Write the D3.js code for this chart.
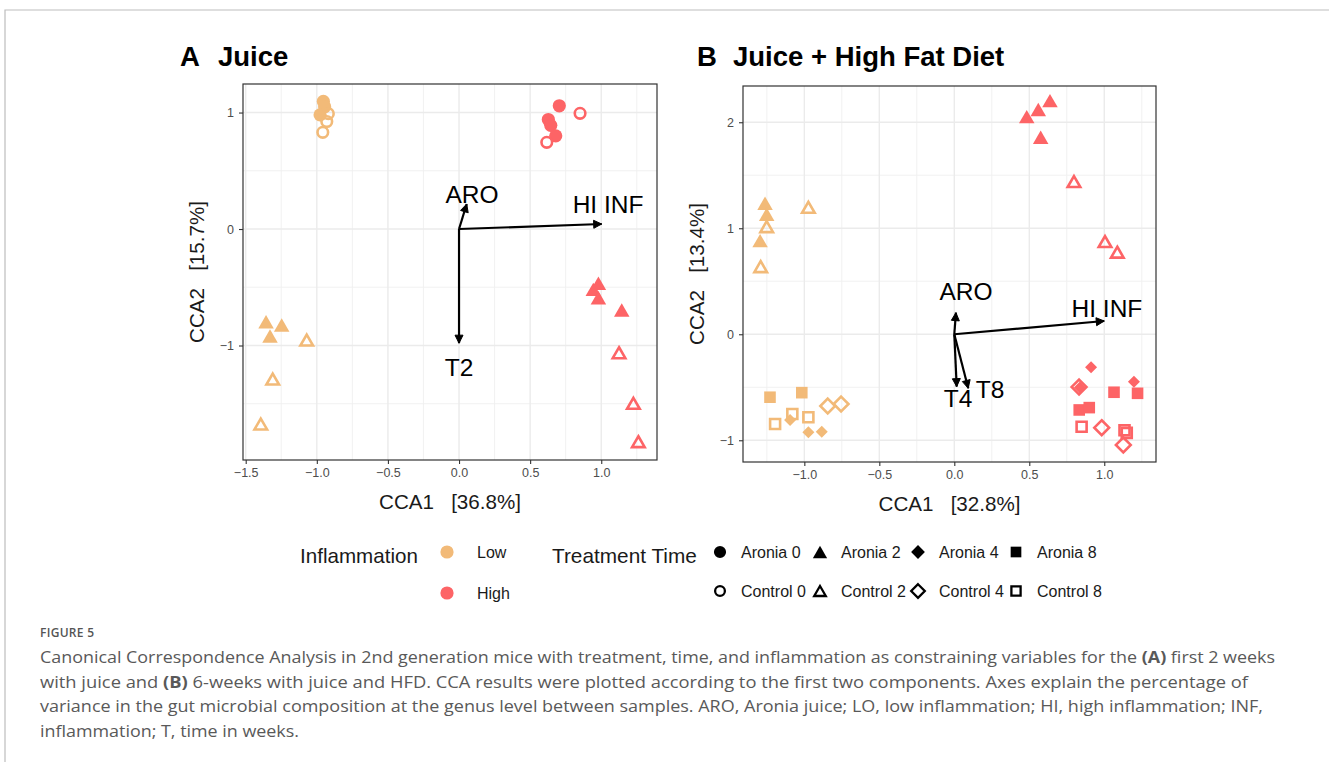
<!DOCTYPE html>
<html>
<head>
<meta charset="utf-8">
<script src="https://cdn.jsdelivr.net/npm/d3@7"></script>
<style>
  html, body { margin: 0; padding: 0; background: #fff; }
  svg { display: block; }
</style>
</head>
<body>
<svg id="fig" width="1329" height="762"></svg>
<script>
// ---- Data: CCA site scores, [CCA1, CCA2, inflammation, treatment-time] ----
const juicePoints = [
  [-0.954, 1.096, "Low", "Aronia 0"], [-0.945, 1.050, "Low", "Aronia 0"], [-0.977, 0.980, "Low", "Aronia 0"],
  [-0.919, 0.990, "Low", "Control 0"], [-0.930, 0.923, "Low", "Control 0"], [-0.958, 0.830, "Low", "Control 0"],
  [0.705, 1.058, "High", "Aronia 0"], [0.628, 0.940, "High", "Aronia 0"], [0.645, 0.890, "High", "Aronia 0"], [0.680, 0.800, "High", "Aronia 0"],
  [0.851, 0.993, "High", "Control 0"], [0.617, 0.744, "High", "Control 0"],
  [-1.357, -0.796, "Low", "Aronia 2"], [-1.247, -0.824, "Low", "Aronia 2"], [-1.329, -0.918, "Low", "Aronia 2"],
  [-1.071, -0.953, "Low", "Control 2"], [-1.310, -1.288, "Low", "Control 2"], [-1.394, -1.674, "Low", "Control 2"],
  [0.980, -0.466, "High", "Aronia 2"], [0.944, -0.518, "High", "Aronia 2"], [0.980, -0.590, "High", "Aronia 2"], [1.144, -0.695, "High", "Aronia 2"],
  [1.125, -1.062, "High", "Control 2"], [1.226, -1.496, "High", "Control 2"], [1.261, -1.826, "High", "Control 2"]
];

const hfdPoints = [
  [-1.262, 1.236, "Low", "Aronia 2"], [-1.251, 1.132, "Low", "Aronia 2"], [-1.295, 0.883, "Low", "Aronia 2"],
  [-1.251, 1.015, "Low", "Control 2"], [-1.291, 0.638, "Low", "Control 2"], [-0.973, 1.198, "Low", "Control 2"],
  [0.483, 2.053, "High", "Aronia 2"], [0.560, 2.120, "High", "Aronia 2"], [0.638, 2.204, "High", "Aronia 2"], [0.576, 1.858, "High", "Aronia 2"],
  [0.798, 1.440, "High", "Control 2"], [1.005, 0.874, "High", "Control 2"], [1.087, 0.774, "High", "Control 2"],
  [-1.229, -0.594, "Low", "Aronia 8"], [-1.017, -0.551, "Low", "Aronia 8"],
  [-1.195, -0.846, "Low", "Control 8"], [-1.080, -0.752, "Low", "Control 8"], [-0.973, -0.783, "Low", "Control 8"],
  [-1.095, -0.808, "Low", "Aronia 4"], [-0.973, -0.925, "Low", "Aronia 4"], [-0.884, -0.919, "Low", "Aronia 4"],
  [-0.844, -0.677, "Low", "Control 4"], [-0.755, -0.658, "Low", "Control 4"],
  [0.912, -0.311, "High", "Aronia 4"], [0.838, -0.503, "High", "Aronia 4"], [1.198, -0.447, "High", "Aronia 4"],
  [0.832, -0.497, "High", "Control 4"], [0.983, -0.881, "High", "Control 4"], [1.127, -1.044, "High", "Control 4"],
  [1.065, -0.547, "High", "Aronia 8"], [1.222, -0.557, "High", "Aronia 8"], [0.833, -0.714, "High", "Aronia 8"], [0.900, -0.692, "High", "Aronia 8"],
  [0.849, -0.872, "High", "Control 8"], [1.135, -0.905, "High", "Control 8"], [1.150, -0.930, "High", "Control 8"]
];

// ---- Biplot arrows: [label, tipCCA1, tipCCA2, labelCCA1, labelCCA2] ----
const juiceArrows = [
  ["ARO", 0.054, 0.215, 0.091, 0.300],
  ["HI INF", 1.003, 0.043, 1.048, 0.215],
  ["T2", 0.000, -0.980, 0.000, -1.185]
];
const hfdArrows = [
  ["ARO", 0.011, 0.204, 0.078, 0.410],
  ["HI INF", 1.000, 0.125, 1.018, 0.250],
  ["T4", 0.016, -0.494, 0.025, -0.600],
  ["T8", 0.093, -0.510, 0.238, -0.516]
];

// ---- Axis ticks ----
const juiceXTicks = [-1.5, -1.0, -0.5, 0.0, 0.5, 1.0];
const juiceYTicks = [-1, 0, 1];
const hfdXTicks = [-1.0, -0.5, 0.0, 0.5, 1.0];
const hfdYTicks = [-1, 0, 1, 2];

// ---- Legend entries ----
const inflammationLevels = ["Low", "High"];
const treatmentTimes = ["Aronia 0", "Aronia 2", "Aronia 4", "Aronia 8",
                        "Control 0", "Control 2", "Control 4", "Control 8"];

const colour = d3.scaleOrdinal().domain(inflammationLevels).range(["#F2BA78", "#FD6466"]);

const svg = d3.select("#fig");
const FONT = "'Liberation Sans', Arial, Helvetica, sans-serif";

// Marker path centred on (0,0); filled for Aronia, hollow for Control.
function markerPath(treat, scale, diamondScale) {
  const s = scale || 1;
  const filled = treat.startsWith("Aronia");
  const time = treat.split(" ")[1];
  const p = d3.path();
  if (time === "0") {
    const r = (filled ? 6.6 : 5.3) * s;
    p.arc(0, 0, r, 0, 2 * Math.PI);
  } else if (time === "2") {
    const side = (filled ? 15.5 : 12.6) * s;
    const h = side * Math.sqrt(3) / 2;
    p.moveTo(0, -h / 2); p.lineTo(side / 2, h / 2); p.lineTo(-side / 2, h / 2); p.closePath();
  } else if (time === "4") {
    const d = (filled ? 6.0 : 7.4) * s * (filled && diamondScale ? diamondScale : 1);
    p.moveTo(0, -d); p.lineTo(d, 0); p.lineTo(0, d); p.lineTo(-d, 0); p.closePath();
  } else {
    const h = (filled ? 5.8 : 5.0) * s;
    p.rect(-h, -h, 2 * h, 2 * h);
  }
  return p.toString();
}

function styleMarker(sel, fill, treat, sw) {
  const filled = treat.startsWith("Aronia");
  sel.attr("fill", filled ? fill : "none")
     .attr("stroke", filled ? "none" : fill)
     .attr("stroke-width", filled ? 0 : (sw || 2.6));
}

function drawPanel(cfg) {
  const { left, right, top, bottom, xDomain, yDomain, xTicks, yTicks, points, arrows,
          letter, title, xTitle, yTitle } = cfg;
  const x = d3.scaleLinear().domain(xDomain).range([left, right]);
  const y = d3.scaleLinear().domain(yDomain).range([bottom, top]);
  const g = svg.append("g");

  // Minor grid lines halfway between major ticks
  const xStep = xTicks[1] - xTicks[0], yStep = yTicks[1] - yTicks[0];
  const xMinor = d3.range(Math.ceil((xDomain[0] - xStep / 2) / xStep) * xStep + xStep / 2, xDomain[1], xStep)
    .filter(v => v > xDomain[0] && v < xDomain[1]);
  const yMinor = d3.range(Math.ceil((yDomain[0] - yStep / 2) / yStep) * yStep + yStep / 2, yDomain[1], yStep)
    .filter(v => v > yDomain[0] && v < yDomain[1]);

  const grid = g.append("g");
  grid.selectAll(".vx-minor").data(xMinor).join("line")
    .attr("x1", d => x(d)).attr("x2", d => x(d)).attr("y1", top).attr("y2", bottom)
    .attr("stroke", "#EFEFEF").attr("stroke-width", 0.9);
  grid.selectAll(".hy-minor").data(yMinor).join("line")
    .attr("y1", d => y(d)).attr("y2", d => y(d)).attr("x1", left).attr("x2", right)
    .attr("stroke", "#EFEFEF").attr("stroke-width", 0.9);
  grid.selectAll(".vx").data(xTicks).join("line")
    .attr("x1", d => x(d)).attr("x2", d => x(d)).attr("y1", top).attr("y2", bottom)
    .attr("stroke", "#EBEBEB").attr("stroke-width", 1.4);
  grid.selectAll(".hy").data(yTicks).join("line")
    .attr("y1", d => y(d)).attr("y2", d => y(d)).attr("x1", left).attr("x2", right)
    .attr("stroke", "#EBEBEB").attr("stroke-width", 1.4);

  // Axes
  const xAxis = g.append("g").attr("transform", `translate(0,${bottom})`)
    .call(d3.axisBottom(x).tickValues(xTicks).tickFormat(d3.format(".1f")).tickSize(4).tickPadding(4));
  const yAxis = g.append("g").attr("transform", `translate(${left},0)`)
    .call(d3.axisLeft(y).tickValues(yTicks).tickFormat(d3.format("d")).tickSize(4).tickPadding(5));
  [xAxis, yAxis].forEach(a => {
    a.select(".domain").remove();
    a.selectAll(".tick line").attr("stroke", "#333").attr("stroke-width", 1.1);
    a.selectAll(".tick text").attr("fill", "#4D4D4D").style("font-family", FONT).style("font-size", "12.5px");
  });

  // Points
  g.append("g").selectAll("path").data(points).join("path")
    .attr("d", d => markerPath(d[3]))
    .attr("transform", d => `translate(${x(d[0])},${y(d[1])})`)
    .each(function (d) { styleMarker(d3.select(this), colour(d[2]), d[3]); });

  // Biplot arrows from the origin
  const ag = g.append("g");
  arrows.forEach(a => {
    const x0 = x(0), y0 = y(0), x1 = x(a[1]), y1 = y(a[2]);
    const ang = Math.atan2(y1 - y0, x1 - x0);
    ag.append("line").attr("x1", x0).attr("y1", y0).attr("x2", x1).attr("y2", y1)
      .attr("stroke", "#000").attr("stroke-width", 2.2);
    const L = 8, W = 4;
    const bx = x1 - L * Math.cos(ang), by = y1 - L * Math.sin(ang);
    const px = -Math.sin(ang) * W, py = Math.cos(ang) * W;
    ag.append("path")
      .attr("d", `M${x1},${y1}L${bx + px},${by + py}L${bx - px},${by - py}Z`)
      .attr("fill", "#000").attr("stroke", "#000").attr("stroke-width", 1);
    ag.append("text").attr("x", x(a[3])).attr("y", y(a[4])).attr("dy", "0.36em")
      .attr("text-anchor", "middle").style("font-family", FONT).style("font-size", "24.5px")
      .attr("fill", "#000").text(a[0]);
  });

  // Panel border
  g.append("rect").attr("x", left).attr("y", top).attr("width", right - left).attr("height", bottom - top)
    .attr("fill", "none").attr("stroke", "#333").attr("stroke-width", 1.2);

  // Axis titles
  g.append("text").attr("x", (left + right) / 2).attr("y", bottom + 49).attr("text-anchor", "middle")
    .style("font-family", FONT).style("font-size", "20.6px").attr("fill", "#1a1a1a")
    .attr("xml:space", "preserve").text(xTitle);
  g.append("text").attr("transform", `translate(${cfg.yTitleX},${(top + bottom) / 2}) rotate(-90)`)
    .attr("text-anchor", "middle").style("font-family", FONT).style("font-size", "20.6px").attr("fill", "#1a1a1a")
    .attr("xml:space", "preserve").text(yTitle);

  // Panel title
  g.append("text").attr("x", cfg.letterX).attr("y", 66).style("font-family", FONT)
    .style("font-size", "27.5px").style("font-weight", "bold").attr("fill", "#000").text(letter);
  g.append("text").attr("x", cfg.titleX).attr("y", 66).style("font-family", FONT)
    .style("font-size", "27.5px").style("font-weight", "bold").attr("fill", "#000").text(title);
}

// Outer frame of the figure
svg.append("path").attr("d", "M5,762V10H1329").attr("fill", "none").attr("stroke", "#BDBDBD").attr("stroke-width", 1.2);

drawPanel({
  left: 243, right: 657, top: 84, bottom: 460,
  xDomain: [-1.519, 1.392], yDomain: [-1.983, 1.245],
  xTicks: juiceXTicks, yTicks: juiceYTicks, points: juicePoints, arrows: juiceArrows,
  letter: "A", letterX: 180, title: "Juice", titleX: 218,
  xTitle: "CCA1   [36.8%]", yTitle: "CCA2   [15.7%]", yTitleX: 204
});
drawPanel({
  left: 743, right: 1156, top: 86, bottom: 462,
  xDomain: [-1.409, 1.345], yDomain: [-1.205, 2.342],
  xTicks: hfdXTicks, yTicks: hfdYTicks, points: hfdPoints, arrows: hfdArrows,
  letter: "B", letterX: 697, title: "Juice + High Fat Diet", titleX: 733,
  xTitle: "CCA1   [32.8%]", yTitle: "CCA2   [13.4%]", yTitleX: 704
});

// ---- Legends ----
const leg = svg.append("g");
leg.append("text").attr("x", 300).attr("y", 563).style("font-family", FONT).style("font-size", "20.6px")
  .attr("fill", "#1a1a1a").text("Inflammation");
inflammationLevels.forEach((lv, i) => {
  const cy = 552 + i * 41;
  leg.append("circle").attr("cx", 447).attr("cy", cy).attr("r", 6.6).attr("fill", colour(lv));
  leg.append("text").attr("x", 477).attr("y", cy + 5.7).style("font-family", FONT).style("font-size", "16px")
    .attr("fill", "#1a1a1a").text(lv);
});

leg.append("text").attr("x", 552).attr("y", 563).style("font-family", FONT).style("font-size", "20.8px")
  .attr("fill", "#1a1a1a").text("Treatment Time");
const keyX = [720, 820, 918, 1016];
treatmentTimes.forEach((t, i) => {
  const col = i % 4, row = Math.floor(i / 4);
  const cx = keyX[col], cy = 552 + row * 39;
  const m = leg.append("path").attr("d", markerPath(t, 0.92, 1.25)).attr("transform", `translate(${cx},${cy})`);
  styleMarker(m, "#000", t, 2.3);
  leg.append("text").attr("x", cx + 21).attr("y", cy + 5.7).style("font-family", FONT).style("font-size", "16px")
    .attr("fill", "#1a1a1a").text(t);
});

// ---- Caption ----
const CAP = "'Open Sans', 'Noto Sans', sans-serif";
svg.append("text").attr("x", 40).attr("y", 637).style("font-family", CAP).style("font-size", "12px")
  .style("font-weight", "600").style("letter-spacing", "0.3px").attr("fill", "#555").text("FIGURE 5");

const captionLines = [
  [["Canonical Correspondence Analysis in 2nd generation mice with treatment, time, and inflammation as constraining variables for the ", false], ["(A)", true], [" first 2 weeks", false]],
  [["with juice and ", false], ["(B)", true], [" 6-weeks with juice and HFD. CCA results were plotted according to the first two components. Axes explain the percentage of", false]],
  [["variance in the gut microbial composition at the genus level between samples. ARO, Aronia juice; LO, low inflammation; HI, high inflammation; INF,", false]],
  [["inflammation; T, time in weeks.", false]]
];
const captionWidths = [1235, 1208, 1223, 259];
captionLines.forEach((parts, i) => {
  const t = svg.append("text").attr("x", 40).attr("y", 663 + i * 24.5)
    .style("font-family", CAP).style("font-size", "16px").attr("fill", "#595959")
    .attr("xml:space", "preserve")
    .attr("textLength", captionWidths[i]).attr("lengthAdjust", "spacingAndGlyphs");
  parts.forEach(p => {
    t.append("tspan").style("font-weight", p[1] ? "700" : "400").text(p[0]);
  });
});
</script>
</body>
</html>
